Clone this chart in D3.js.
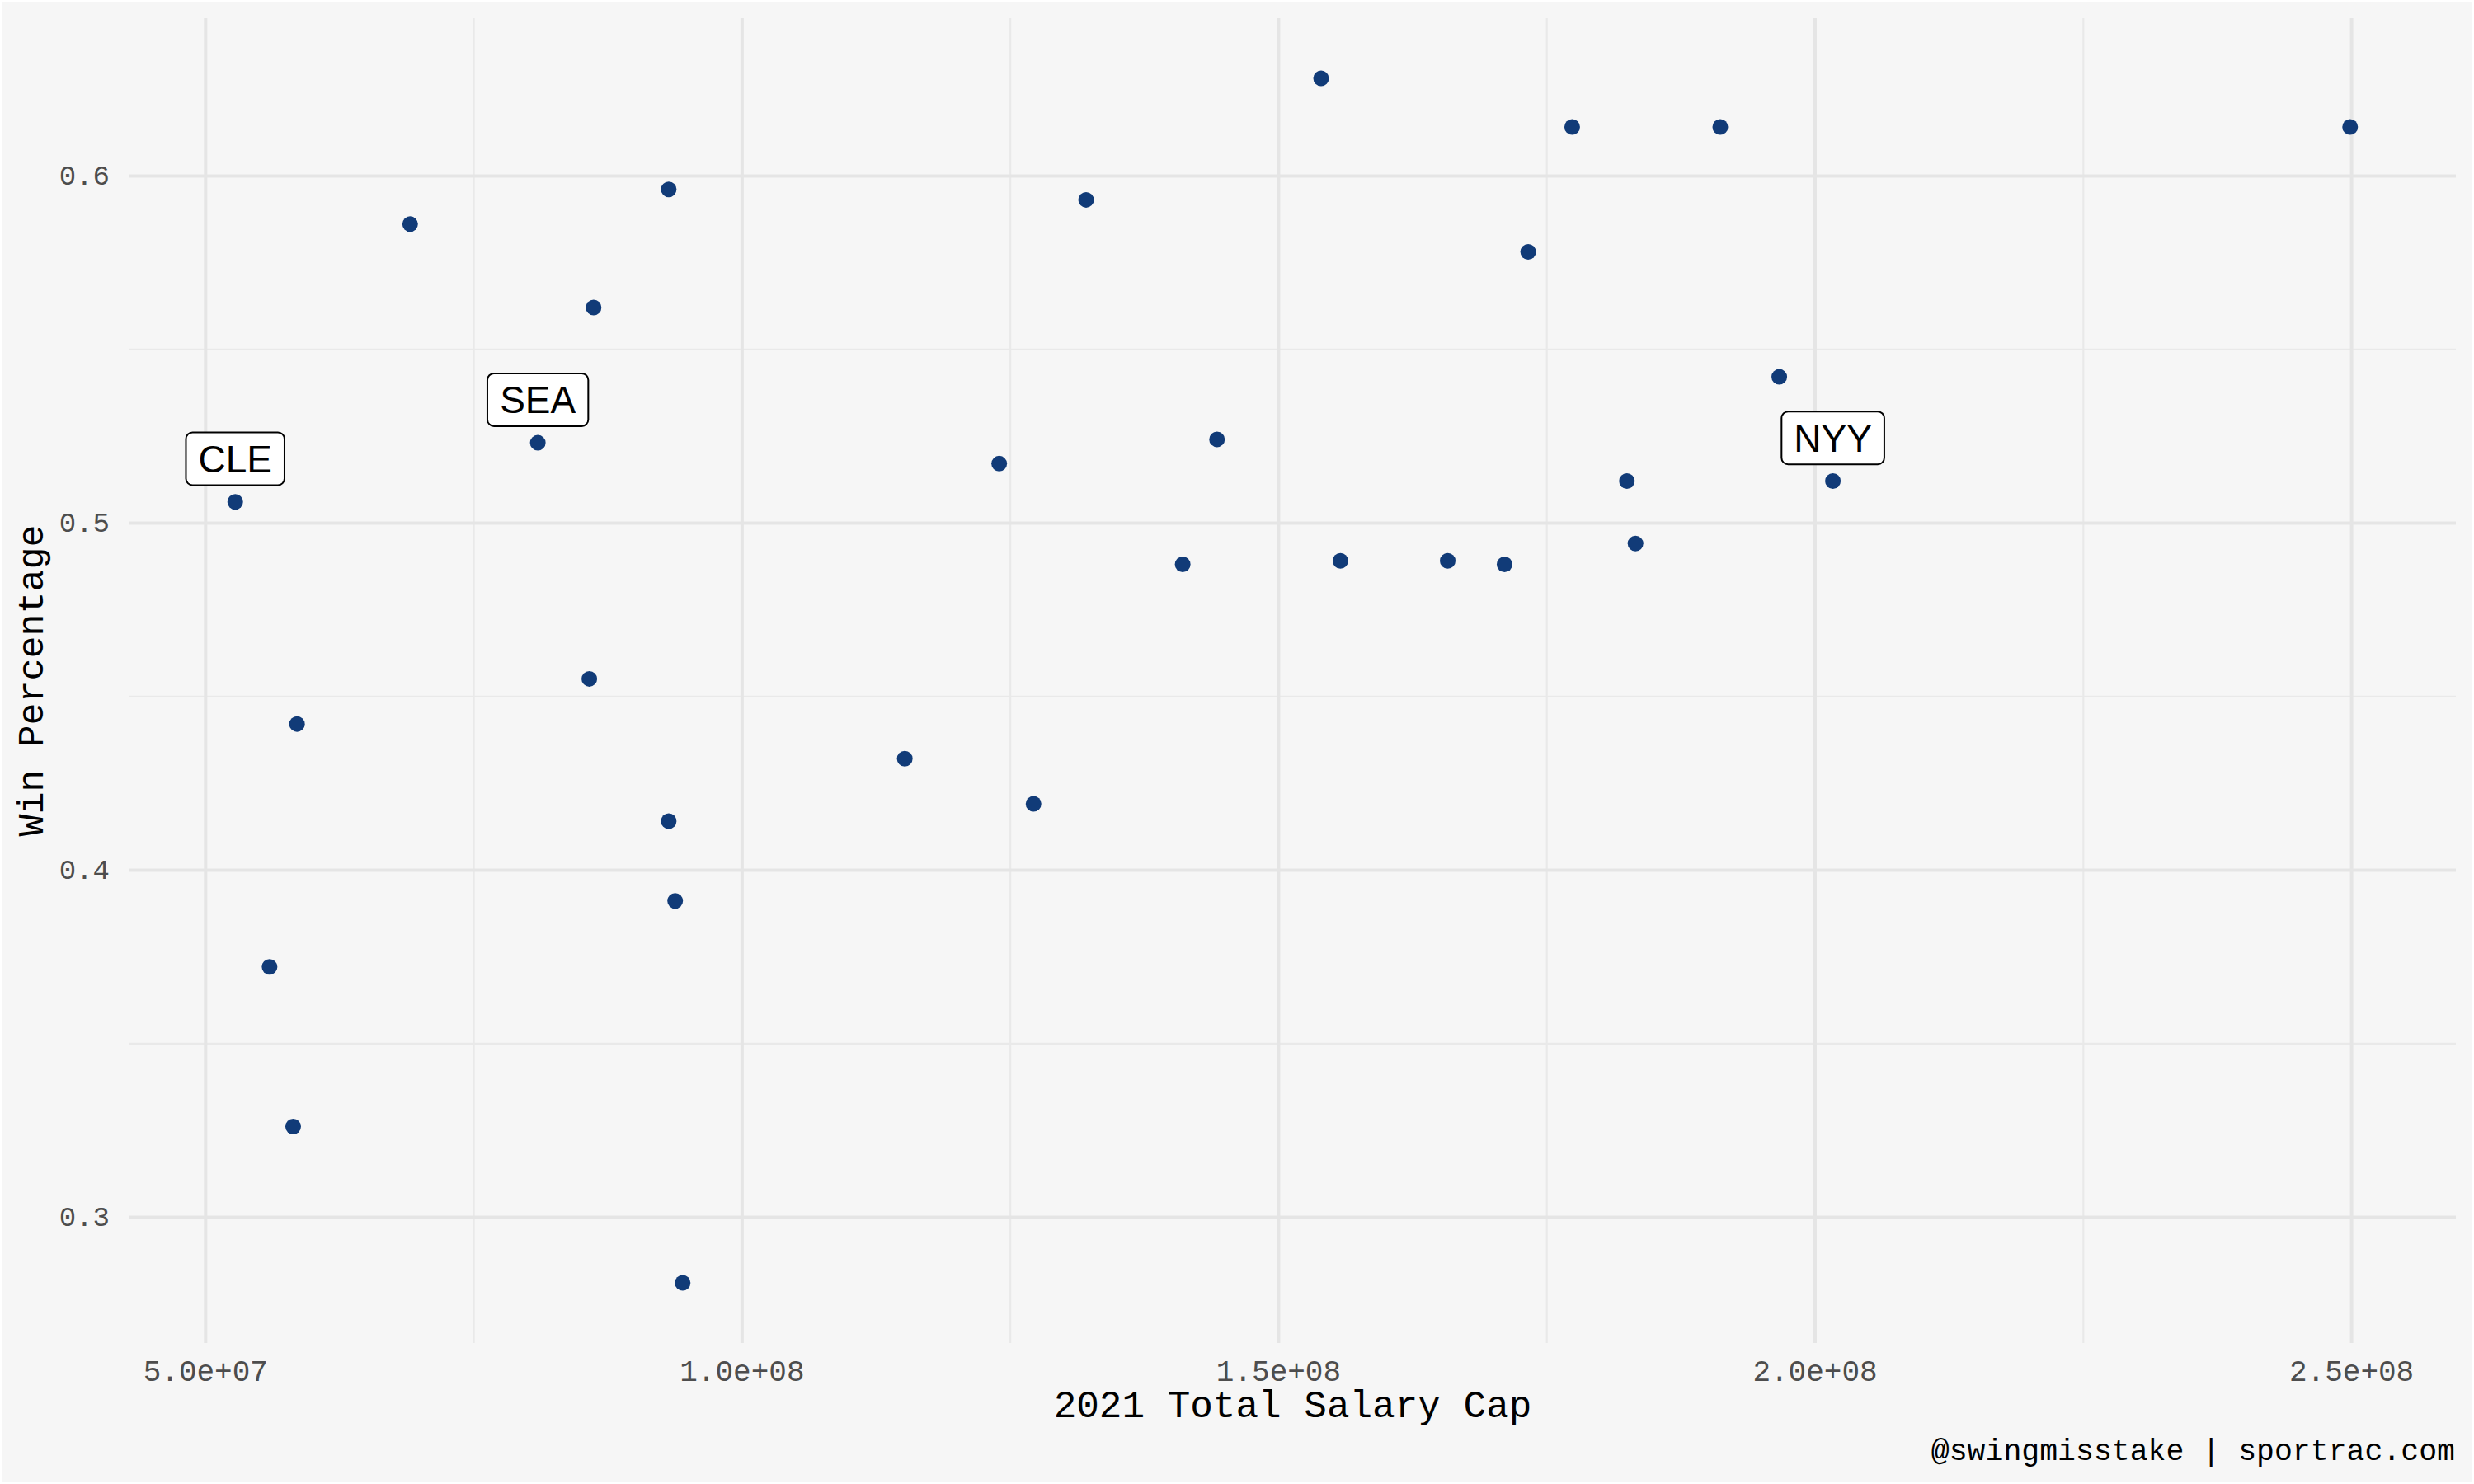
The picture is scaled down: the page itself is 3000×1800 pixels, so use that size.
<!DOCTYPE html>
<html>
<head>
<meta charset="utf-8">
<script src="https://cdn.jsdelivr.net/npm/d3@7"></script>
<style>
  body { margin: 0; background: #ffffff; }
  svg { display: block; }
</style>
</head>
<body>
<div id="chart"></div>
<script>
// 2021 payroll vs win percentage, one point per team
var salary = [52800000, 69100000, 58560000, 56000000, 58200000, 81000000, 86200000, 85800000,
              93200000, 93200000, 93800000, 94500000, 115200000, 124000000, 127200000, 132100000,
              141100000, 144300000, 154000000, 155800000, 165800000, 171100000, 173300000, 177400000,
              182500000, 183300000, 191200000, 196700000, 201700000, 249900000];
var winPct = [0.506, 0.586, 0.442, 0.372, 0.326, 0.523, 0.562, 0.455,
              0.596, 0.414, 0.391, 0.281, 0.432, 0.517, 0.419, 0.593,
              0.488, 0.524, 0.628, 0.489, 0.489, 0.488, 0.578, 0.614,
              0.512, 0.494, 0.614, 0.542, 0.512, 0.614];
var teamLabel = ["CLE", "", "", "", "", "SEA", "", "",
                 "", "", "", "", "", "", "", "",
                 "", "", "", "", "", "", "", "",
                 "", "", "", "", "NYY", ""];
var xTicks = [5e7, 1e8, 1.5e8, 2e8, 2.5e8];
var xMinor = [7.5e7, 1.25e8, 1.75e8, 2.25e8];
var yTicks = [0.3, 0.4, 0.5, 0.6];
var yMinor = [0.35, 0.45, 0.55];

var W = 3000, H = 1800;
var margin = {top: 22, right: 22, bottom: 171, left: 157};
var pw = W - margin.left - margin.right,
    ph = H - margin.top - margin.bottom;

var mono = "'Liberation Mono', 'DejaVu Sans Mono', monospace";

var data = salary.map(function(s, i) {
  return {x: s, y: winPct[i], team: teamLabel[i]};
});

// ggplot style 5% expansion
function expand(ext) {
  var pad = (ext[1] - ext[0]) * 0.05;
  return [ext[0] - pad, ext[1] + pad];
}

var x = d3.scaleLinear()
  .domain(expand(d3.extent(salary)))
  .range([0, pw]);
var y = d3.scaleLinear()
  .domain(expand(d3.extent(winPct)))
  .range([ph, 0]);

// 5.0e+07 style labels
var sci = function(v) {
  var s = d3.format(".1e")(v);
  return s.replace(/e([+-])(\d)$/, "e$10$2");
};

var svg = d3.select("#chart").append("svg")
  .attr("width", W)
  .attr("height", H);

svg.append("rect")
  .attr("x", 2).attr("y", 2)
  .attr("width", W - 4).attr("height", H - 4)
  .attr("fill", "#f6f6f6");

var g = svg.append("g")
  .attr("transform", "translate(" + margin.left + "," + margin.top + ")");

// minor grid
g.append("g")
  .call(d3.axisTop(x).tickValues(xMinor).tickSize(-ph).tickFormat(""))
  .call(function(a) {
    a.select(".domain").remove();
    a.selectAll("line").attr("stroke", "#e9e9e9").attr("stroke-width", 2.2);
  });
g.append("g")
  .call(d3.axisLeft(y).tickValues(yMinor).tickSize(-pw).tickFormat(""))
  .call(function(a) {
    a.select(".domain").remove();
    a.selectAll("line").attr("stroke", "#e9e9e9").attr("stroke-width", 2.2);
  });

// major grid
g.append("g")
  .call(d3.axisTop(x).tickValues(xTicks).tickSize(-ph).tickFormat(""))
  .call(function(a) {
    a.select(".domain").remove();
    a.selectAll("line").attr("stroke", "#e5e5e5").attr("stroke-width", 4);
  });
g.append("g")
  .call(d3.axisLeft(y).tickValues(yTicks).tickSize(-pw).tickFormat(""))
  .call(function(a) {
    a.select(".domain").remove();
    a.selectAll("line").attr("stroke", "#e5e5e5").attr("stroke-width", 4);
  });

// tick labels
g.append("g")
  .attr("transform", "translate(0," + ph + ")")
  .call(d3.axisBottom(x).tickValues(xTicks).tickSize(0).tickPadding(20).tickFormat(sci))
  .call(function(a) {
    a.select(".domain").remove();
    a.selectAll("text").attr("fill", "#4d4d4d").style("font-family", mono).style("font-size", "36px");
  });
g.append("g")
  .call(d3.axisLeft(y).tickValues(yTicks).tickSize(0).tickPadding(24).tickFormat(d3.format(".1f")))
  .call(function(a) {
    a.select(".domain").remove();
    a.selectAll("text").attr("fill", "#4d4d4d").style("font-family", mono).style("font-size", "34px");
  });

// points
g.selectAll("circle.pt")
  .data(data)
  .enter()
  .append("circle")
  .attr("class", "pt")
  .attr("cx", function(d) { return x(d.x); })
  .attr("cy", function(d) { return y(d.y); })
  .attr("r", 9.5)
  .attr("fill", "#113b78");

// team labels (boxed, nudged up)
var nudge = 0.0124;
var labs = g.selectAll("g.lab")
  .data(data.filter(function(d) { return d.team !== ""; }))
  .enter()
  .append("g")
  .attr("class", "lab")
  .attr("transform", function(d) { return "translate(" + x(d.x) + "," + y(d.y + nudge) + ")"; });

labs.append("rect")
  .attr("fill", "#ffffff")
  .attr("stroke", "#000000")
  .attr("stroke-width", 2)
  .attr("rx", 8).attr("ry", 8);

labs.append("text")
  .attr("text-anchor", "middle")
  .attr("y", 16.5)
  .style("font-family", "'Liberation Sans', Arial, sans-serif")
  .style("font-size", "46px")
  .attr("fill", "#000000")
  .text(function(d) { return d.team; });

labs.each(function() {
  var t = d3.select(this).select("text").node().getBBox();
  d3.select(this).select("rect")
    .attr("x", -t.width / 2 - 15)
    .attr("y", -32)
    .attr("width", t.width + 30)
    .attr("height", 64);
});

// axis titles
svg.append("text")
  .attr("x", margin.left + pw / 2)
  .attr("y", 1719)
  .attr("text-anchor", "middle")
  .style("font-family", mono)
  .style("font-size", "46px")
  .attr("fill", "#000000")
  .text("2021 Total Salary Cap");

svg.append("text")
  .attr("transform", "translate(52," + (margin.top + ph / 2) + ") rotate(-90)")
  .attr("text-anchor", "middle")
  .style("font-family", mono)
  .style("font-size", "45px")
  .attr("fill", "#000000")
  .text("Win Percentage");

// caption
svg.append("text")
  .attr("x", 2977)
  .attr("y", 1771)
  .attr("text-anchor", "end")
  .style("font-family", mono)
  .style("font-size", "36.5px")
  .attr("fill", "#000000")
  .text("@swingmisstake | sportrac.com");
</script>
</body>
</html>
